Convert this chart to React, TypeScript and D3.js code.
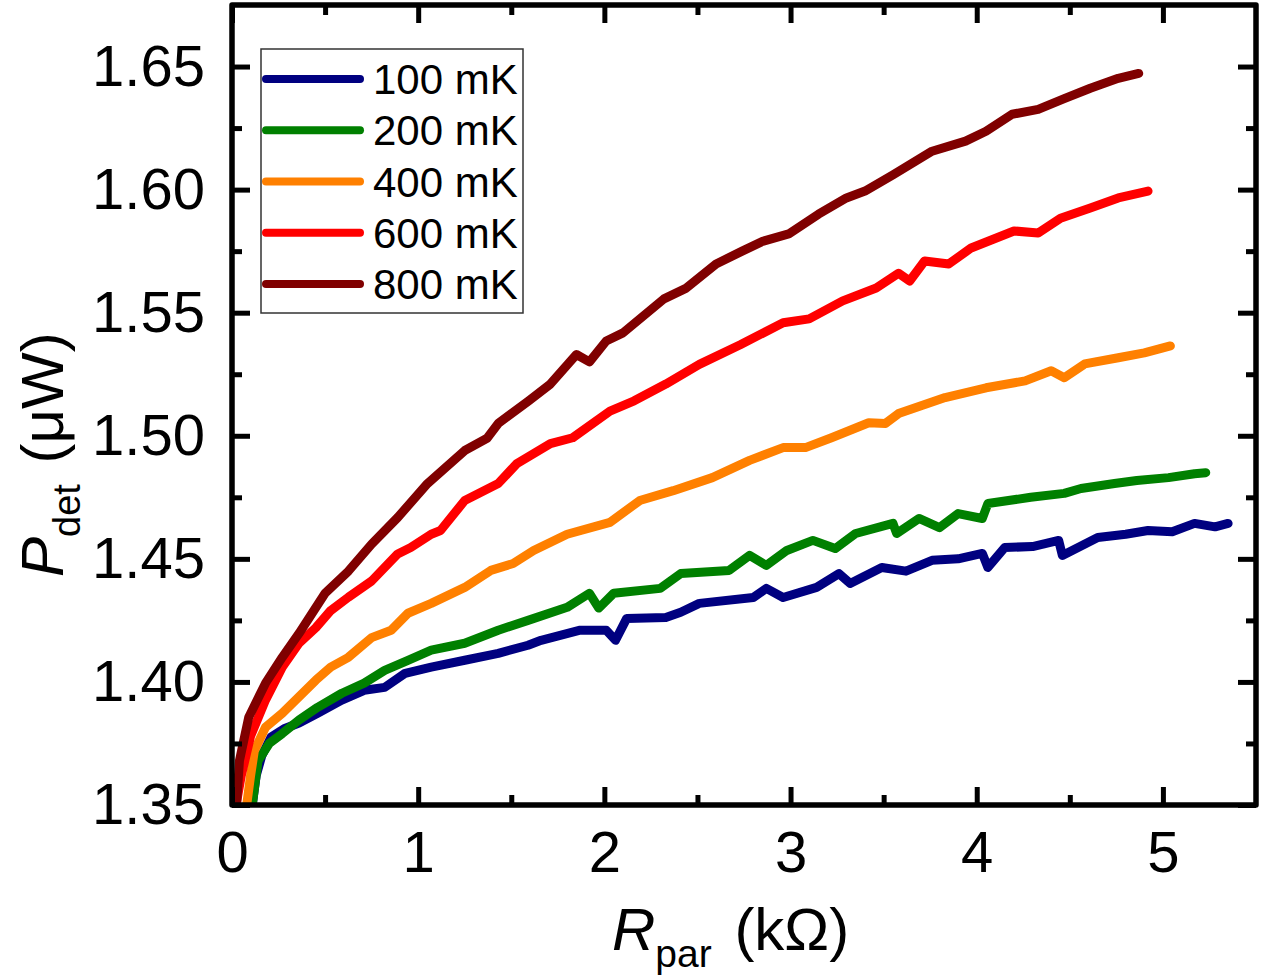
import React, { useRef, useEffect } from 'react';
import * as d3 from 'd3';

// R_par (kOhm) and P_det (uW) for each bath temperature
const rpar100 = [0.10, 0.13, 0.16, 0.21, 0.28, 0.36, 0.46, 0.59, 0.71, 0.82, 0.93, 1.07, 1.25, 1.43, 1.59, 1.66, 1.87, 2.01, 2.06, 2.12, 2.33, 2.41, 2.51, 2.80, 2.87, 2.96, 3.14, 3.26, 3.32, 3.49, 3.62, 3.76, 3.90, 4.03, 4.06, 4.15, 4.30, 4.44, 4.46, 4.65, 4.80, 4.92, 5.05, 5.17, 5.28, 5.35];
const pdet100 = [1.345, 1.362, 1.370, 1.3776, 1.381, 1.3833, 1.3873, 1.3926, 1.3966, 1.3978, 1.4035, 1.406, 1.4088, 1.4116, 1.4149, 1.4169, 1.421, 1.421, 1.4169, 1.4258, 1.4262, 1.4283, 1.4319, 1.4343, 1.438, 1.4343, 1.4384, 1.444, 1.440, 1.4465, 1.445, 1.4494, 1.450, 1.4522, 1.4465, 1.4546, 1.455, 1.4575, 1.4514, 1.4587, 1.460, 1.4615, 1.461, 1.4644, 1.463, 1.4644];

const rpar200 = [0.10, 0.14, 0.20, 0.27, 0.36, 0.46, 0.59, 0.71, 0.82, 0.945, 1.07, 1.25, 1.43, 1.59, 1.80, 1.92, 1.97, 2.05, 2.30, 2.41, 2.67, 2.78, 2.87, 2.98, 3.12, 3.24, 3.35, 3.55, 3.57, 3.69, 3.80, 3.90, 4.03, 4.06, 4.29, 4.47, 4.56, 4.74, 4.86, 5.03, 5.17, 5.23];
const pdet200 = [1.345, 1.368, 1.375, 1.379, 1.3845, 1.3897, 1.3954, 1.3995, 1.4047, 1.4088, 1.4129, 1.4157, 1.421, 1.425, 1.4303, 1.436, 1.430, 1.436, 1.438, 1.444, 1.4453, 1.4514, 1.4473, 1.4534, 1.4575, 1.4542, 1.4603, 1.4644, 1.4603, 1.4664, 1.4627, 1.4684, 1.4664, 1.4725, 1.475, 1.4766, 1.4786, 1.4806, 1.4818, 1.483, 1.4846, 1.485];

const rpar400 = [0.07, 0.10, 0.12, 0.18, 0.27, 0.36, 0.45, 0.53, 0.625, 0.75, 0.855, 0.945, 1.07, 1.25, 1.39, 1.51, 1.62, 1.80, 2.03, 2.19, 2.37, 2.58, 2.78, 2.96, 3.08, 3.22, 3.42, 3.51, 3.58, 3.83, 4.05, 4.26, 4.40, 4.47, 4.58, 4.76, 4.90, 5.04];
const pdet400 = [1.345, 1.362, 1.372, 1.3816, 1.3873, 1.394, 1.4007, 1.406, 1.410, 1.418, 1.421, 1.4279, 1.4319, 1.4384, 1.4453, 1.4481, 1.4534, 1.460, 1.4648, 1.4737, 1.4777, 1.483, 1.490, 1.4952, 1.4952, 1.4992, 1.5053, 1.505, 1.509, 1.5155, 1.5195, 1.5223, 1.5264, 1.5236, 1.5292, 1.5317, 1.5337, 1.5365];

const rpar600 = [0.01, 0.05, 0.10, 0.18, 0.27, 0.36, 0.45, 0.53, 0.625, 0.75, 0.89, 0.96, 1.07, 1.12, 1.25, 1.43, 1.53, 1.62, 1.71, 1.83, 2.03, 2.16, 2.33, 2.51, 2.73, 2.96, 3.10, 3.28, 3.46, 3.58, 3.64, 3.72, 3.85, 3.97, 4.20, 4.33, 4.45, 4.61, 4.76, 4.92];
const pdet600 = [1.345, 1.362, 1.378, 1.3926, 1.406, 1.4157, 1.422, 1.429, 1.4344, 1.441, 1.452, 1.4546, 1.460, 1.4615, 1.4737, 1.4806, 1.4887, 1.4927, 1.4968, 1.4992, 1.510, 1.5142, 1.521, 1.529, 1.537, 1.5459, 1.5475, 1.5548, 1.560, 1.566, 1.5629, 1.571, 1.5698, 1.5763, 1.5832, 1.5824, 1.5884, 1.5925, 1.5966, 1.5994];

const rpar800 = [0.02, 0.04, 0.09, 0.18, 0.27, 0.36, 0.50, 0.625, 0.75, 0.89, 1.05, 1.25, 1.37, 1.43, 1.59, 1.71, 1.85, 1.92, 2.01, 2.10, 2.32, 2.44, 2.60, 2.74, 2.85, 2.99, 3.15, 3.30, 3.40, 3.55, 3.76, 3.94, 4.05, 4.19, 4.33, 4.47, 4.61, 4.76, 4.87];
const pdet800 = [1.345, 1.368, 1.3857, 1.3995, 1.410, 1.4197, 1.436, 1.445, 1.456, 1.4668, 1.4806, 1.494, 1.499, 1.505, 1.514, 1.521, 1.533, 1.530, 1.5385, 1.5418, 1.5556, 1.560, 1.5698, 1.575, 1.579, 1.582, 1.590, 1.5966, 1.5994, 1.606, 1.6156, 1.6197, 1.6237, 1.6306, 1.6326, 1.637, 1.6412, 1.6452, 1.6472];

const seriesLabels = ['100 mK', '200 mK', '400 mK', '600 mK', '800 mK'];
const seriesColors = ['#000080', '#008000', '#ff8000', '#ff0000', '#800000'];
const seriesX = [rpar100, rpar200, rpar400, rpar600, rpar800];
const seriesY = [pdet100, pdet200, pdet400, pdet600, pdet800];

const xMajor = [0, 1, 2, 3, 4, 5];
const xMinor = [0.5, 1.5, 2.5, 3.5, 4.5];
const yMajor = [1.35, 1.40, 1.45, 1.50, 1.55, 1.60, 1.65];
const yMinor = [1.375, 1.425, 1.475, 1.525, 1.575, 1.625];

const FONT = '"Liberation Sans", Arial, Helvetica, sans-serif';

type Pt = [number, number];

const App: React.FC = () => {
    const svgRef = useRef<SVGSVGElement | null>(null);
    const width = 1275;
    const height = 975;

    useEffect(() => {
        if (!svgRef.current) return;
        const svg = d3.select(svgRef.current);
        svg.selectAll('*').remove();

        const left = 232, right = 1256, top = 5, bottom = 805;

        const x = d3.scaleLinear().domain([0, 5.5]).range([left, right]);
        const y = d3.scaleLinear().domain([1.35, 1.675]).range([bottom, top]);

        svg.append('rect').attr('width', width).attr('height', height).attr('fill', '#fff');

        svg.append('defs').append('clipPath').attr('id', 'plot-clip')
            .append('rect')
            .attr('x', left).attr('y', top)
            .attr('width', right - left).attr('height', bottom - top);

        const line = d3.line<Pt>()
            .x((d) => x(d[0]))
            .y((d) => y(d[1]));

        const curves = svg.append('g').attr('clip-path', 'url(#plot-clip)');
        seriesX.forEach((xs, i) => {
            const pts: Pt[] = xs.map((v, j) => [v, seriesY[i][j]]);
            curves.append('path')
                .datum(pts)
                .attr('fill', 'none')
                .attr('stroke', seriesColors[i])
                .attr('stroke-width', 9)
                .attr('stroke-linejoin', 'round')
                .attr('stroke-linecap', 'round')
                .attr('d', line);
        });

        // inward ticks on all four sides
        const styleAxis = (g: d3.Selection<SVGGElement, unknown, null, undefined>) => {
            g.select('.domain').remove();
            g.selectAll('.tick line').attr('stroke', '#000').attr('stroke-width', 5);
            g.selectAll('.tick text')
                .attr('fill', '#000')
                .attr('font-family', FONT)
                .attr('font-size', 58);
        };
        const noLabel = () => '';

        svg.append('g').attr('transform', `translate(0,${bottom})`)
            .call(d3.axisBottom(x).tickValues(xMajor).tickSize(-18).tickPadding(26).tickFormat(d3.format('d')))
            .call(styleAxis);
        svg.append('g').attr('transform', `translate(0,${bottom})`)
            .call(d3.axisBottom(x).tickValues(xMinor).tickSize(-10).tickFormat(noLabel))
            .call(styleAxis);
        svg.append('g').attr('transform', `translate(0,${top})`)
            .call(d3.axisTop(x).tickValues(xMajor).tickSize(-18).tickFormat(noLabel))
            .call(styleAxis);
        svg.append('g').attr('transform', `translate(0,${top})`)
            .call(d3.axisTop(x).tickValues(xMinor).tickSize(-10).tickFormat(noLabel))
            .call(styleAxis);

        svg.append('g').attr('transform', `translate(${left},0)`)
            .call(d3.axisLeft(y).tickValues(yMajor).tickSize(-18).tickPadding(27).tickFormat(d3.format('.2f')))
            .call(styleAxis);
        svg.append('g').attr('transform', `translate(${left},0)`)
            .call(d3.axisLeft(y).tickValues(yMinor).tickSize(-10).tickFormat(noLabel))
            .call(styleAxis);
        svg.append('g').attr('transform', `translate(${right},0)`)
            .call(d3.axisRight(y).tickValues(yMajor).tickSize(-18).tickFormat(noLabel))
            .call(styleAxis);
        svg.append('g').attr('transform', `translate(${right},0)`)
            .call(d3.axisRight(y).tickValues(yMinor).tickSize(-10).tickFormat(noLabel))
            .call(styleAxis);

        svg.append('rect')
            .attr('x', left).attr('y', top)
            .attr('width', right - left).attr('height', bottom - top)
            .attr('fill', 'none')
            .attr('stroke', '#000')
            .attr('stroke-width', 5.5)
            .attr('stroke-linejoin', 'round');

        // axis titles
        const xt = svg.append('text')
            .attr('x', 612).attr('y', 950)
            .attr('font-family', FONT).attr('font-size', 60).attr('fill', '#000');
        xt.append('tspan').attr('font-style', 'italic').text('R');
        xt.append('tspan').attr('font-size', 39).attr('dy', 17).text('par');
        xt.append('tspan').attr('dy', -17).attr('dx', 6).text(' (kΩ)');

        const yt = svg.append('text')
            .attr('transform', 'translate(63,577) rotate(-90)')
            .attr('font-family', FONT).attr('font-size', 60).attr('fill', '#000');
        yt.append('tspan').attr('font-style', 'italic').text('P');
        yt.append('tspan').attr('font-size', 38).attr('dy', 17).text('det');
        yt.append('tspan').attr('dy', -17).attr('dx', 4).text(' (μW)');

        // legend
        const legend = svg.append('g');
        legend.append('rect')
            .attr('x', 261).attr('y', 49)
            .attr('width', 262).attr('height', 264)
            .attr('fill', '#fff')
            .attr('stroke', '#333')
            .attr('stroke-width', 1.5);
        const rowY = d3.scalePoint<string>().domain(seriesLabels).range([79, 284]);
        seriesLabels.forEach((label, i) => {
            const yy = rowY(label) as number;
            legend.append('line')
                .attr('x1', 266).attr('x2', 360)
                .attr('y1', yy).attr('y2', yy)
                .attr('stroke', seriesColors[i])
                .attr('stroke-width', 8)
                .attr('stroke-linecap', 'round');
            legend.append('text')
                .attr('x', 373).attr('y', yy)
                .attr('dy', '0.36em')
                .attr('font-family', FONT)
                .attr('font-size', 42)
                .attr('fill', '#000')
                .text(label);
        });
    }, []);

    return (
        <svg
            ref={svgRef}
            width={width}
            height={height}
            style={{ position: 'absolute', left: 0, top: 0, display: 'block' }}
        />
    );
};

export default App;
